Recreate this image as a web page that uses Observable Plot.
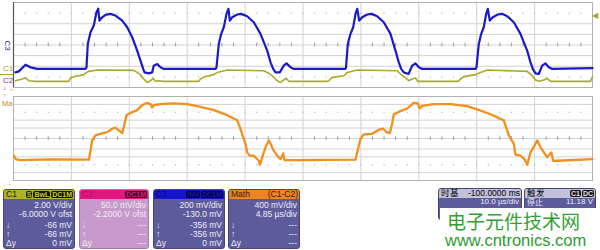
<!DOCTYPE html>
<html><head><meta charset="utf-8">
<script src="https://cdn.jsdelivr.net/npm/d3@7"></script>
<script src="https://cdn.jsdelivr.net/npm/@observablehq/plot@0.6"></script>
<style>
@font-face{font-family:"WMCJK";src:local("Noto Sans CJK SC"),local("Noto Sans CJK SC Regular"),local("NotoSansCJKsc-Regular");ascent-override:88%;descent-override:12%;line-gap-override:0%;}
html,body{margin:0;padding:0;background:#fff;}
#root{position:relative;width:600px;height:250px;overflow:hidden;background:#fff;font-family:"Liberation Sans",Arial,sans-serif;}
.abs{position:absolute;white-space:nowrap;}
.box{position:absolute;top:189px;height:60px;border-radius:3px;overflow:hidden;box-sizing:border-box;}
.hdr{position:absolute;left:0;top:0;right:0;height:9px;font-size:8.5px;line-height:9px;display:flex;align-items:center;padding:0 1px 0 2px;}
.hdr .sp{margin-left:auto;}
.badge{background:#141414;font-size:7px;font-weight:bold;line-height:7px;height:7px;padding:0 1px;border-radius:2px;margin-left:1px;}
.row{position:absolute;left:2px;right:2px;font-size:8.5px;line-height:9px;color:#eeeef6;text-align:right;white-space:nowrap;}
.row .l{position:absolute;left:0;}
.cjk{font-family:"WMCJK","Noto Sans CJK SC",sans-serif;}
</style></head>
<body><div id="root"></div>
<script>
// ---- top panel (10 µs/div, screen divisions) ----
const c3T = [0.35,0.92,2.07,2.94,4.09,12.43,
 12.61,12.83,13.30,13.87,14.33,14.63,14.85,15.32,15.89,16.75,17.62,18.77,19.64,20.50,21.36,21.93,22.40,22.63,23.37,23.95,24.23,24.82,25.39,25.96,34.89,
 35.06,35.46,35.87,36.32,36.79,37.13,37.36,37.77,38.64,39.33,40.36,41.50,42.66,43.82,44.39,44.85,45.25,45.99,46.68,47.15,47.84,48.41,57.34,
 57.43,57.74,58.20,58.67,59.07,59.36,59.71,60.22,61.09,61.83,62.81,63.95,65.11,65.97,66.54,66.96,67.41,68.22,68.86,69.43,70.00,70.59,79.79,
 79.96,80.36,80.78,81.22,81.64,81.92,82.26,82.78,83.64,84.40,85.27,86.41,87.56,88.72,89.29,89.69,90.15,90.72,91.31,91.88,92.45,93.04,100];
const c3V = [-2.58,-2.48,-1.85,-2.10,-2.25,-2.25,
 -2.10,0.10,1.20,1.83,3.08,3.41,2.30,2.61,2.84,2.93,2.77,2.30,1.67,0.73,-0.53,-1.47,-2.25,-2.58,-2.67,-2.58,-1.94,-1.78,-2.10,-2.25,-2.25,
 -2.10,0.10,1.05,1.67,2.93,3.41,2.30,2.61,2.87,2.93,2.71,2.14,1.05,-0.53,-1.63,-2.25,-2.58,-2.58,-1.94,-1.73,-2.10,-2.25,-2.25,
 -2.10,0.10,1.05,1.67,2.93,3.41,2.30,2.61,2.87,2.93,2.71,2.14,1.05,-0.53,-1.63,-2.25,-2.58,-2.73,-1.94,-1.73,-2.10,-2.25,-2.25,
 -2.10,0.10,1.05,1.67,2.93,3.41,2.30,2.61,2.87,2.93,2.71,2.14,1.05,-0.53,-1.63,-2.25,-2.67,-2.73,-1.94,-1.73,-2.10,-2.25,-2.18];
const c1T = [0.35,1.50,2.07,2.64,3.80,9.55,9.84,10.41,12.14,12.61,13.00,14.46,20.78,21.36,21.93,22.50,23.09,23.66,24.13,24.52,25.09,25.96,
 32.00,32.30,32.99,34.59,35.18,36.91,43.23,43.82,44.68,45.54,46.11,46.68,47.10,47.55,54.18,54.46,55.04,57.05,57.63,59.36,
 66.27,66.84,67.70,68.27,68.86,69.43,69.83,76.86,77.20,77.77,79.79,80.66,81.81,88.72,89.58,90.15,90.72,91.59,92.17,92.74,99.65,100];
const c1V = [-3.36,-3.20,-3.10,-3.36,-3.42,-3.42,-3.10,-2.98,-2.79,-2.58,-2.48,-2.35,-2.39,-2.58,-2.79,-3.20,-3.52,-3.36,-3.14,-3.42,-3.36,-3.42,
 -3.42,-3.20,-2.98,-2.79,-2.58,-2.35,-2.42,-2.58,-2.89,-3.36,-3.52,-3.29,-3.14,-3.42,-3.42,-3.36,-3.05,-2.89,-2.58,-2.35,
 -2.42,-2.73,-3.10,-3.36,-3.20,-3.10,-3.42,-3.42,-3.20,-2.98,-2.79,-2.58,-2.35,-2.48,-2.89,-3.29,-3.42,-3.29,-3.14,-3.42,-3.42,-2.98];
// ---- bottom panel: Math (C1-C2), 4.85 µs/div ----
const mathT = [0.03,0.17,0.59,3.10,6.31,6.45,6.59,6.87,7.29,7.85,8.27,8.54,8.82,9.11,9.24,9.47,9.80,10.36,10.78,11.20,
 11.48,11.62,11.75,12.31,13.43,14.55,15.66,16.78,17.90,18.74,18.96,19.24,19.43,19.58,19.79,20.13,20.55,20.63,20.83,21.11,
 21.39,21.53,21.80,22.09,22.37,22.59,22.70,24.04,28.65,28.79,29.07,29.34,30.05,30.60,30.97,31.24,31.52,31.72,31.86,32.27,
 32.98,33.53,33.87,34.03,34.23,35.21,36.60,38.00,38.84,39.96,41.07,41.49,41.91,42.05,42.47,42.80,43.03,43.31,43.73,43.87,
 44.15,44.71,45.04,45.21,45.54,48.50];
const mathV = [-1.64,-1.96,-2.05,-1.99,-2.02,-1.16,-0.19,0.29,0.45,0.61,0.93,1.03,0.77,0.51,1.09,2.22,2.44,2.70,3.18,3.40,
 3.28,2.96,3.18,3.28,3.34,3.28,3.02,2.70,2.22,1.73,1.09,0.13,-0.51,-1.32,-1.64,-1.64,-2.12,-2.51,-1.80,-0.84,
 -0.19,-0.51,-1.16,-1.64,-1.96,-1.42,-2.05,-2.05,-2.02,-1.32,-0.03,0.39,0.45,0.84,0.93,0.61,0.51,1.42,2.31,2.53,
 2.86,3.40,3.34,2.86,3.11,3.28,3.28,3.08,2.77,2.31,1.73,0.29,-0.51,-1.54,-1.64,-1.96,-2.51,-1.32,-0.51,-0.19,
 -0.84,-1.80,-1.32,-2.12,-2.12,-1.96];
// grid positions
const topGridT = [10,20,30,40,50,60,70,80,90];
const topMinorT = [2,4,6,8,12,14,16,18,22,24,26,28,32,34,36,38,42,44,46,48,52,54,56,58,62,64,66,68,72,74,76,78,82,84,86,88,92,94,96,98];
const topGridV = [2,1,0,-1,-2];
const topDotV = [3,-3];
const botGridT = [4.85,9.70,14.55,19.40,24.25,29.10,33.95,38.80,43.65];
const botMinorT = [0.97,1.94,2.91,3.88,5.82,6.79,7.76,8.73,10.67,11.64,12.61,13.58,15.52,16.49,17.46,18.43,20.37,21.34,22.31,23.28,
 25.22,26.19,27.16,28.13,30.07,31.04,32.01,32.98,34.92,35.89,36.86,37.83,39.77,40.74,41.71,42.68,44.62,45.59,46.56,47.53];
const botGridV = [3.25,1.75,1,0,-1,-1.75,-3.25];
const botDotV = [2.5,-2.5];

const c3 = c3T.map((t,i)=>({t, v:c3V[i]}));
const c1 = c1T.map((t,i)=>({t, v:c1V[i]}));
const math = mathT.map((t,i)=>({t, v:mathV[i]}));
const cross = (xs, ys) => ys.flatMap(y => xs.map(x => ({x, y})));

const root = document.getElementById("root");
const gridCol = "#d2d2d2";

const topPlot = Plot.plot({
  width: 600, height: 89, marginLeft: 13, marginRight: 8, marginTop: 2, marginBottom: 2,
  x: {domain: [0, 100], axis: null}, y: {domain: [-4, 4], axis: null},
  style: {background: "transparent", overflow: "visible"},
  marks: [
    Plot.ruleX(topGridT, {x: d => d, stroke: gridCol}),
    Plot.ruleY(topGridV, {y: d => d, stroke: gridCol}),
    Plot.dot(cross(topMinorT.concat(topGridT), topDotV), {x: "x", y: "y", r: 0.7, fill: "#b8b8b8", stroke: null}),
    Plot.ruleX(topMinorT, {x: d => d, y1: -0.17, y2: 0.17, stroke: "#999"}),
    Plot.frame({stroke: "#b0b0b0"}),
    Plot.ruleX([0], {stroke: "#555", strokeWidth: 1.2}),
    Plot.line(c1, {x: "t", y: "v", stroke: "#aaaa2a", strokeWidth: 1.6}),
    Plot.line(c3, {x: "t", y: "v", stroke: "#1a1ac6", strokeWidth: 2.2})
  ]
});
topPlot.style.position = "absolute"; topPlot.style.left = "0px"; topPlot.style.top = "0px";
root.appendChild(topPlot);

const botPlot = Plot.plot({
  width: 600, height: 88, marginLeft: 13, marginRight: 8, marginTop: 2, marginBottom: 2,
  x: {domain: [0, 48.5], axis: null}, y: {domain: [-4, 4], axis: null},
  style: {background: "transparent", overflow: "visible"},
  marks: [
    Plot.ruleX(botGridT, {x: d => d, stroke: gridCol}),
    Plot.ruleY(botGridV, {y: d => d, stroke: gridCol}),
    Plot.dot(cross(botMinorT.concat(botGridT), botDotV), {x: "x", y: "y", r: 0.7, fill: "#b8b8b8", stroke: null}),
    Plot.ruleX(botMinorT, {x: d => d, y1: -0.17, y2: 0.17, stroke: "#999"}),
    Plot.frame({stroke: "#b0b0b0"}),
    Plot.line(math, {x: "t", y: "v", stroke: "#f0901e", strokeWidth: 2.3})
  ]
});
botPlot.style.position = "absolute"; botPlot.style.left = "0px"; botPlot.style.top = "94px";
root.appendChild(botPlot);

// ---- annotations and info boxes ----
const extra = `
<div class="abs" style="left:2px;top:41px;font-size:8px;color:#23236e;transform:rotate(90deg);transform-origin:center;">C3</div>
<div class="abs" style="left:3px;top:64px;font-size:8px;color:#a4a424;">C1</div>
<div class="abs" style="left:0px;top:74px;width:13px;height:1px;background:#a8a828;"></div>
<div class="abs" style="left:3px;top:76px;font-size:8px;color:#8a3a8a;">C2</div>
<div class="abs" style="left:3px;top:84px;font-size:7px;font-weight:bold;color:#d0187a;">↓</div>
<div class="abs" style="left:9px;top:85px;font-size:7px;color:#b0a030;">←</div>
<div class="abs" style="left:3px;top:92px;font-size:7px;color:#e08a20;">↑</div>
<div class="abs" style="left:2px;top:99px;font-size:7.5px;color:#c88a20;">Ma</div>
<div class="abs" style="left:8px;top:179px;font-size:7px;color:#e0901e;">↓</div>
<div class="abs" style="left:592px;top:11px;font-size:8px;color:#a8a828;">◀</div>

<div class="box" style="left:3px;width:72px;background:#5c5b9b;border:1px solid #45457a;">
 <div class="hdr" style="background:#b2b226;color:#1a1a00;">C1<span class="sp"></span><span class="badge" style="color:#c8c830">S</span><span class="badge" style="color:#c8c830">BwL</span><span class="badge" style="color:#c8c830">DC1M</span></div>
 <div class="row" style="top:11px">2.00 V/div</div>
 <div class="row" style="top:20px">-6.0000 V ofst</div>
 <div class="row" style="top:31px"><span class="l">↓</span>-66 mV</div>
 <div class="row" style="top:40px"><span class="l">↑</span>-66 mV</div>
 <div class="row" style="top:49px"><span class="l">Δy</span>0 mV</div>
</div>
<div class="box" style="left:79px;width:70px;background:#c89acb;border:1px solid #a87aac;">
 <div class="hdr" style="background:#e2167e;color:#b80c60;">C2<span class="sp"></span><span class="badge" style="color:#e2167e;background:#3a0a22">DC1M</span></div>
 <div class="row" style="top:11px">50.0 mV/div</div>
 <div class="row" style="top:20px">-2.2000 V ofst</div>
 <div class="row" style="top:31px"><span class="l">↓</span>---</div>
 <div class="row" style="top:40px"><span class="l">↑</span>---</div>
 <div class="row" style="top:49px"><span class="l">Δy</span>---</div>
</div>
<div class="box" style="left:153px;width:72px;background:#5c5b9b;border:1px solid #45457a;">
 <div class="hdr" style="background:#1616cc;color:#06066a;">C3<span class="sp"></span><span class="badge" style="color:#1414b4;background:#05053a">INV</span><span class="badge" style="color:#1414b4;background:#05053a">DC1M</span></div>
 <div class="row" style="top:11px">200 mV/div</div>
 <div class="row" style="top:20px">-130.0 mV</div>
 <div class="row" style="top:31px"><span class="l">↓</span>-356 mV</div>
 <div class="row" style="top:40px"><span class="l">↑</span>-356 mV</div>
 <div class="row" style="top:49px"><span class="l">Δy</span>0 mV</div>
</div>
<div class="box" style="left:228px;width:72px;background:#5c5b9b;border:1px solid #45457a;">
 <div class="hdr" style="background:#f08420;color:#3a1800;">Math<span class="sp"></span>(C1-C2)</div>
 <div class="row" style="top:11px">400 mV/div</div>
 <div class="row" style="top:20px">4.85 µs/div</div>
 <div class="row" style="top:31px"><span class="l">↓</span>---</div>
 <div class="row" style="top:40px"><span class="l">↑</span>---</div>
 <div class="row" style="top:49px"><span class="l">Δy</span>---</div>
</div>

<div class="box" style="left:438px;top:188px;width:84px;height:32px;background:#5c5b9b;border:1px solid #45457a;">
 <div class="hdr" style="background:#c2c2da;color:#000;"><span class="cjk">时基</span><span class="sp"></span>-100.0000 ms</div>
 <div class="row" style="top:9px;line-height:8px;font-size:8px">10.0 µs/div</div>
</div>
<div class="box" style="left:524px;top:188px;width:72px;height:32px;background:#5c5b9b;border:1px solid #45457a;">
 <div class="hdr" style="background:#c2c2da;color:#000;"><span class="cjk">触发</span><span class="sp"></span><span class="badge" style="color:#e8e8e8">C1</span><span class="badge" style="color:#e8e8e8">DC</span></div>
 <div class="row" style="top:9px;line-height:8px;font-size:8px"><span class="l cjk">停止</span>11.18 V</div>
</div>
<div class="abs" style="left:440px;top:208px;width:160px;height:42px;background:#fff;"></div>
<div class="abs cjk" style="left:447px;top:211.5px;font-size:19px;line-height:19px;color:#35a035;">电子元件技术网</div>
<div class="abs" style="left:445px;top:231px;font-size:16.5px;line-height:19px;color:#2f9a2f;">www.cntronics.com</div>
`;
root.insertAdjacentHTML("beforeend", extra);
</script>
</body></html>
